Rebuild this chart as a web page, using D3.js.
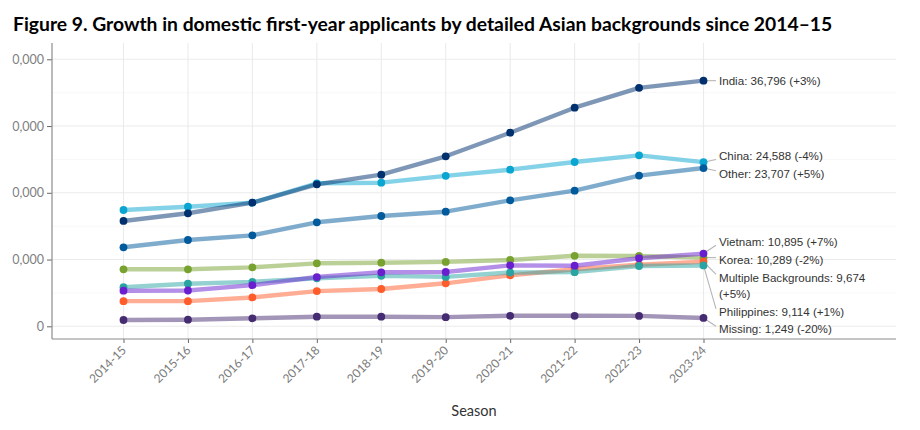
<!DOCTYPE html>
<html><head><meta charset="utf-8">
<script src="https://cdn.jsdelivr.net/npm/d3@7"></script>
<style>html,body{margin:0;padding:0;background:#fff}svg{display:block}</style>
</head><body>
<svg id="chart" width="920" height="430"></svg>
<script>
// ---------------- data ----------------
const chartTitle = "Figure 9. Growth in domestic first-year applicants by detailed Asian backgrounds since 2014\u201315";
const xAxisTitle = "Season";
const seasons = ["2014-15","2015-16","2016-17","2017-18","2018-19","2019-20","2020-21","2021-22","2022-23","2023-24"];
const yTickValues = [0, 10000, 20000, 30000, 40000];
const yMinorValues = [5000, 15000, 25000, 35000];

// drawing order (alphabetical, as in the source)
const seriesNames = ["China","India","Korea","Missing","Multiple Backgrounds","Other","Philippines","Vietnam"];
const china        = [17425, 17920, 18520, 21420, 21515, 22540, 23465, 24615, 25610, 24588];
const india        = [15780, 16930, 18520, 21270, 22715, 25470, 29005, 32750, 35720, 36796];
const korea        = [8540, 8540, 8835, 9435, 9530, 9650, 9930, 10560, 10540, 10289];
const missing      = [945, 990, 1200, 1440, 1440, 1370, 1570, 1570, 1560, 1249];
const multiple     = [3770, 3770, 4320, 5270, 5590, 6440, 7630, 8540, 9220, 9674];
const other        = [11835, 12930, 13630, 15580, 16525, 17170, 18875, 20315, 22580, 23707];
const philippines  = [5860, 6385, 6660, 7200, 7560, 7400, 8060, 8110, 9030, 9114];
const vietnam      = [5335, 5360, 6160, 7380, 8090, 8135, 9130, 9080, 10200, 10895];
const seriesValues = [china, india, korea, missing, multiple, other, philippines, vietnam];
const seriesColors = ["#0aa5d1","#00306e","#78a22f","#452b72","#ff5c2b","#005a9c","#2aa3a3","#6a1fcf"];

// ---------------- layout ----------------
const svg = d3.select("#chart");
const panel = {left: 52, right: 896, top: 43, bottom: 339};
const x = d3.scalePoint().domain(seasons).range([123.5, 703.5]);
const y = d3.scaleLinear().domain([0, 40000]).range([326.3, 59.3]);

const series = seriesNames.map((name, i) => ({
  name, color: seriesColors[i],
  values: seriesValues[i].map((v, j) => ({season: seasons[j], value: v}))
}));

// title (fit to width like the source)
const titleEl = svg.append("text")
  .attr("x", 13).attr("y", 31)
  .attr("font-family", "Lato, 'Open Sans', sans-serif")
  .attr("font-weight", 700).attr("font-size", 20).attr("fill", "#000")
  .text(chartTitle);
const tw = titleEl.node().getComputedTextLength();
titleEl.attr("font-size", 20 * 820 / tw);

// grid
const g = svg.append("g");
g.selectAll("line.minor").data(yMinorValues).join("line")
  .attr("x1", panel.left).attr("x2", panel.right)
  .attr("y1", d => y(d)).attr("y2", d => y(d))
  .attr("stroke", "#f2f2f2").attr("stroke-width", 0.6);
g.selectAll("line.majy").data(yTickValues).join("line")
  .attr("x1", panel.left).attr("x2", panel.right)
  .attr("y1", d => y(d)).attr("y2", d => y(d))
  .attr("stroke", "#ebebeb").attr("stroke-width", 1.1);
g.selectAll("line.majx").data(seasons).join("line")
  .attr("x1", d => x(d)).attr("x2", d => x(d))
  .attr("y1", panel.top).attr("y2", panel.bottom)
  .attr("stroke", "#ebebeb").attr("stroke-width", 1.1);

// axes
const tickFont = "Lato, 'Open Sans', sans-serif";
svg.append("clipPath").attr("id", "yclip")
  .append("rect").attr("x", 12.3).attr("y", 0).attr("width", 60).attr("height", 430);
const yAxis = svg.append("g").attr("transform", `translate(${panel.left},0)`)
  .call(d3.axisLeft(y).tickValues(yTickValues).tickFormat(d3.format(",")).tickSize(5).tickPadding(3));
yAxis.select(".domain").remove();
yAxis.selectAll(".tick line").attr("stroke", "#666");
yAxis.selectAll(".tick text").attr("fill", "#808080").attr("font-size", 12.5).attr("font-family", tickFont);
svg.append("g").attr("clip-path", "url(#yclip)").node().appendChild(yAxis.node());
svg.append("line").attr("x1", panel.left).attr("x2", panel.left).attr("y1", panel.top).attr("y2", panel.bottom)
  .attr("stroke", "#8c8c8c").attr("stroke-width", 1.2);

const xAxis = svg.append("g").attr("transform", `translate(0,${panel.bottom})`)
  .call(d3.axisBottom(x).tickSize(4).tickPadding(0));
xAxis.select(".domain").remove();
xAxis.selectAll(".tick line").attr("stroke", "#666");
xAxis.selectAll(".tick text")
  .attr("fill", "#7a7a7a").attr("font-size", 12).attr("font-family", tickFont)
  .attr("text-anchor", "end").attr("dy", null).attr("y", null)
  .attr("transform", "translate(3,12) rotate(-45)");
svg.append("line").attr("x1", panel.left).attr("x2", panel.right).attr("y1", panel.bottom).attr("y2", panel.bottom)
  .attr("stroke", "#8c8c8c").attr("stroke-width", 1.2);

svg.append("text").attr("x", (panel.left + panel.right) / 2).attr("y", 416)
  .attr("text-anchor", "middle").attr("font-family", tickFont).attr("font-size", 14.5)
  .attr("fill", "#333").text(xAxisTitle);

// lines and points
const line = d3.line().x(d => x(d.season)).y(d => y(d.value));
svg.append("g").selectAll("path").data(series).join("path")
  .attr("d", d => line(d.values)).attr("fill", "none")
  .attr("stroke", d => d.color).attr("stroke-opacity", 0.5)
  .attr("stroke-width", 4.4).attr("stroke-linejoin", "round").attr("stroke-linecap", "butt");
const pg = svg.append("g");
series.forEach(s => {
  pg.append("g").selectAll("circle").data(s.values).join("circle")
    .attr("cx", d => x(d.season)).attr("cy", d => y(d.value)).attr("r", 3.9)
    .attr("fill", s.color);
});

// end labels with simple repel
const fmt = d3.format(",");
const LH = 17.4, PAD = 8, WRAP = 30;
function wrap(str) {
  const words = str.split(" "); const out = []; let cur = "";
  words.forEach(w => { if (cur && (cur + " " + w).length > WRAP) { out.push(cur); cur = w; } else cur = cur ? cur + " " + w : w; });
  out.push(cur); return out;
}
const items = series.map(s => {
  const n = s.values.length, last = s.values[n-1].value, prev = s.values[n-2].value;
  const pct = Math.round((last / prev - 1) * 100);
  const txt = `${s.name}: ${fmt(last)} (${pct >= 0 ? "+" : ""}${pct}%)`;
  const lines = wrap(txt);
  return {s, lines, target: y(last), px: x(seasons[n-1]), h: lines.length * LH};
}).sort((a, b) => a.target - b.target);

let clusters = items.map(it => ({items: [it]}));
function place(c) {
  let off = 0; const cs = [];
  c.items.forEach((it, i) => { if (i > 0) off += (c.items[i-1].h + it.h) / 2; cs.push(off); });
  const mid = (c.items[0].target + c.items[c.items.length-1].target) / 2;
  const start = mid - cs[cs.length-1] / 2;
  c.items.forEach((it, i) => it.cy = start + cs[i]);
  c.top = c.items[0].cy - c.items[0].h / 2;
  const L = c.items[c.items.length-1]; c.bottom = L.cy + L.h / 2;
}
let merged = true;
while (merged) {
  merged = false; clusters.forEach(place);
  for (let i = 0; i < clusters.length - 1; i++) {
    if (clusters[i].bottom + PAD > clusters[i+1].top) {
      clusters[i] = {items: clusters[i].items.concat(clusters[i+1].items)};
      clusters.splice(i+1, 1); merged = true; break;
    }
  }
}
const labelX = 719, lineGap = 16.6;
const lg = svg.append("g");
items.forEach(it => {
  const n = it.lines.length;
  const firstY = it.cy - (n - 1) * lineGap / 2;
  const lastY = firstY + (n - 1) * lineGap;
  const endY = Math.max(firstY - 3, Math.min(lastY + 3, it.target));
  lg.append("line").attr("x1", it.px).attr("y1", it.target).attr("x2", labelX - 3).attr("y2", endY)
    .attr("stroke", "#b5b5b5").attr("stroke-width", 1.1);
  const t = lg.append("text").attr("font-family", "'Liberation Sans', Arial, sans-serif")
    .attr("font-size", 11.6).attr("fill", "#333");
  it.lines.forEach((ln, k) => t.append("tspan").attr("x", labelX).attr("y", firstY + k * lineGap).attr("dy", "0.35em").text(ln));
});
pg.raise();
</script>
</body></html>
